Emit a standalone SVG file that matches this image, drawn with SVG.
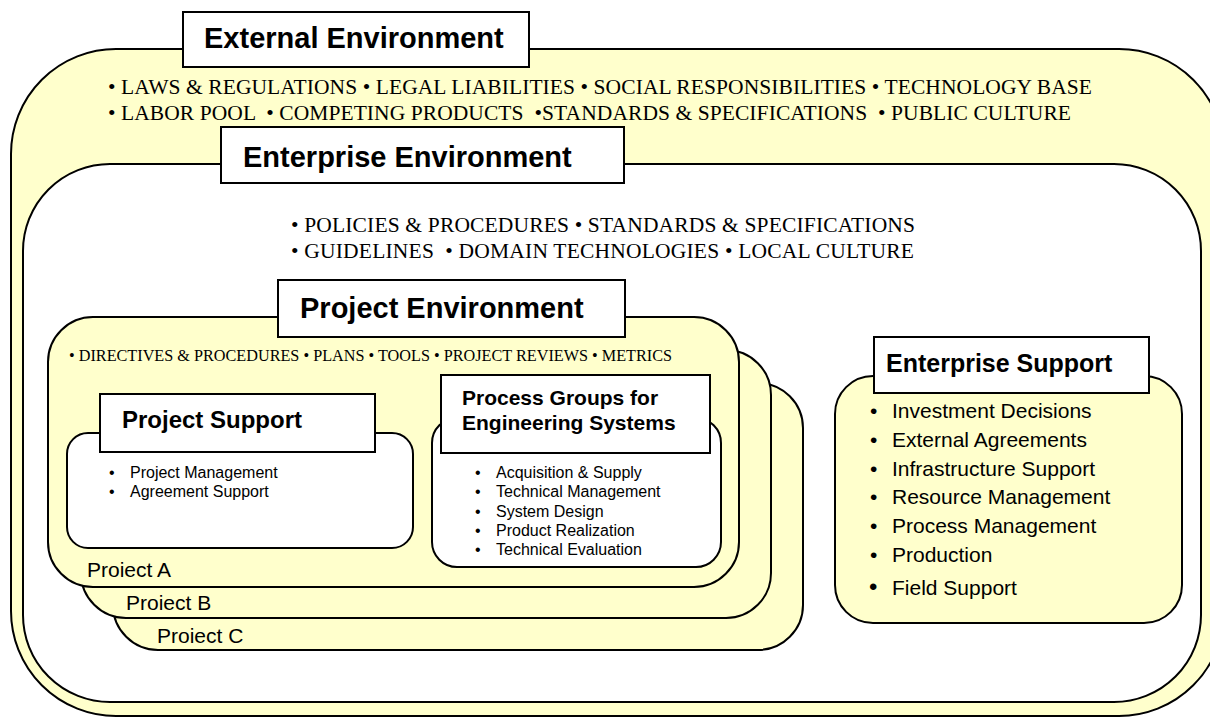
<svg xmlns="http://www.w3.org/2000/svg" width="1210" height="717" viewBox="0 0 1210 717">
<style>
.yel{fill:#FFFFCC;stroke:#000;stroke-width:2}
.wht{fill:#FFFFFF;stroke:#000;stroke-width:2}
.hd{font-family:"Liberation Sans",Arial,sans-serif;font-weight:bold;fill:#000}
.ser{font-family:"Liberation Serif","Times New Roman",serif;fill:#000}
.san{font-family:"Liberation Sans",Arial,sans-serif;fill:#000}
</style>
<rect width="1210" height="717" fill="#FFFFFF"/>
<g id="external-environment">
  <rect class="yel" x="11" y="49" width="1213" height="667" rx="105" ry="105"/>
  <rect class="wht" x="183" y="12" width="346" height="55"/>
  <text class="hd" x="204" y="48" font-size="29">External Environment</text>
  <text class="ser" x="108" y="94" font-size="21.5" textLength="984" xml:space="preserve">• LAWS &amp; REGULATIONS • LEGAL LIABILITIES • SOCIAL RESPONSIBILITIES • TECHNOLOGY BASE</text>
  <text class="ser" x="108" y="120" font-size="21.5" textLength="963" xml:space="preserve">• LABOR POOL  • COMPETING PRODUCTS  •STANDARDS &amp; SPECIFICATIONS  • PUBLIC CULTURE</text>
</g>
<g id="enterprise-environment">
  <rect class="wht" x="23" y="164" width="1178" height="538" rx="87" ry="87"/>
  <rect class="wht" x="221" y="127" width="403" height="56"/>
  <text class="hd" x="243" y="167" font-size="29">Enterprise Environment</text>
  <text class="ser" x="291" y="232" font-size="21.5" textLength="624" xml:space="preserve">• POLICIES &amp; PROCEDURES • STANDARDS &amp; SPECIFICATIONS</text>
  <text class="ser" x="291" y="258" font-size="21.5" textLength="623" xml:space="preserve">• GUIDELINES  • DOMAIN TECHNOLOGIES • LOCAL CULTURE</text>
</g>
<g id="project-c">
  <rect class="yel" x="113" y="383" width="690" height="267" rx="45" ry="45"/>
  <text class="san" x="157" y="643" font-size="21">Proiect C</text>
</g>
<g id="project-b">
  <rect class="yel" x="81" y="350" width="690" height="268" rx="45" ry="45"/>
  <text class="san" x="126" y="610" font-size="21">Proiect B</text>
</g>
<g id="project-a">
  <rect class="yel" x="48" y="317" width="691" height="270" rx="45" ry="45"/>
  <text class="san" x="87" y="577" font-size="21">Proiect A</text>
</g>
<g id="project-environment">
  <rect class="wht" x="278" y="280" width="347" height="57"/>
  <text class="hd" x="300" y="318" font-size="29">Project Environment</text>
  <text class="ser" x="69" y="361" font-size="16.2" textLength="603" xml:space="preserve">• DIRECTIVES &amp; PROCEDURES • PLANS • TOOLS • PROJECT REVIEWS • METRICS</text>
</g>
<g id="project-support">
  <rect class="wht" x="67" y="433" width="346" height="115" rx="21" ry="21"/>
  <rect class="wht" x="100" y="394" width="275" height="58"/>
  <text class="hd" x="122" y="428" font-size="24">Project Support</text>
  <text class="san" font-size="16"><tspan x="109" y="478">•</tspan><tspan x="130" y="478">Project Management</tspan><tspan x="109" y="497">•</tspan><tspan x="130" y="497">Agreement Support</tspan></text>
</g>
<g id="process-groups">
  <rect class="wht" x="432" y="418" width="289" height="149" rx="25" ry="25"/>
  <rect class="wht" x="441" y="375" width="269" height="78"/>
  <text class="hd" font-size="21"><tspan x="462" y="405">Process Groups for</tspan><tspan x="462" y="430">Engineering Systems</tspan></text>
  <text class="san" font-size="16">
    <tspan x="475" y="478">•</tspan><tspan x="496" y="478">Acquisition &amp; Supply</tspan>
    <tspan x="475" y="497">•</tspan><tspan x="496" y="497">Technical Management</tspan>
    <tspan x="475" y="517">•</tspan><tspan x="496" y="517">System Design</tspan>
    <tspan x="475" y="536">•</tspan><tspan x="496" y="536">Product Realization</tspan>
    <tspan x="475" y="555">•</tspan><tspan x="496" y="555">Technical Evaluation</tspan>
  </text>
</g>
<g id="enterprise-support">
  <rect class="yel" x="835" y="376" width="347" height="247" rx="38" ry="38"/>
  <rect class="wht" x="874" y="337" width="275" height="56"/>
  <text class="hd" x="886" y="372" font-size="25">Enterprise Support</text>
  <text class="san" font-size="21">
    <tspan x="870" y="418">•</tspan><tspan x="892" y="418">Investment Decisions</tspan>
    <tspan x="870" y="447">•</tspan><tspan x="892" y="447">External Agreements</tspan>
    <tspan x="870" y="476">•</tspan><tspan x="892" y="476">Infrastructure Support</tspan>
    <tspan x="870" y="504">•</tspan><tspan x="892" y="504">Resource Management</tspan>
    <tspan x="870" y="533">•</tspan><tspan x="892" y="533">Process Management</tspan>
    <tspan x="870" y="562">•</tspan><tspan x="892" y="562">Production</tspan>
    <tspan x="869" y="595" font-size="24">•</tspan><tspan x="892" y="595">Field Support</tspan>
  </text>
</g>
<g id="connectors"></g>
</svg>
